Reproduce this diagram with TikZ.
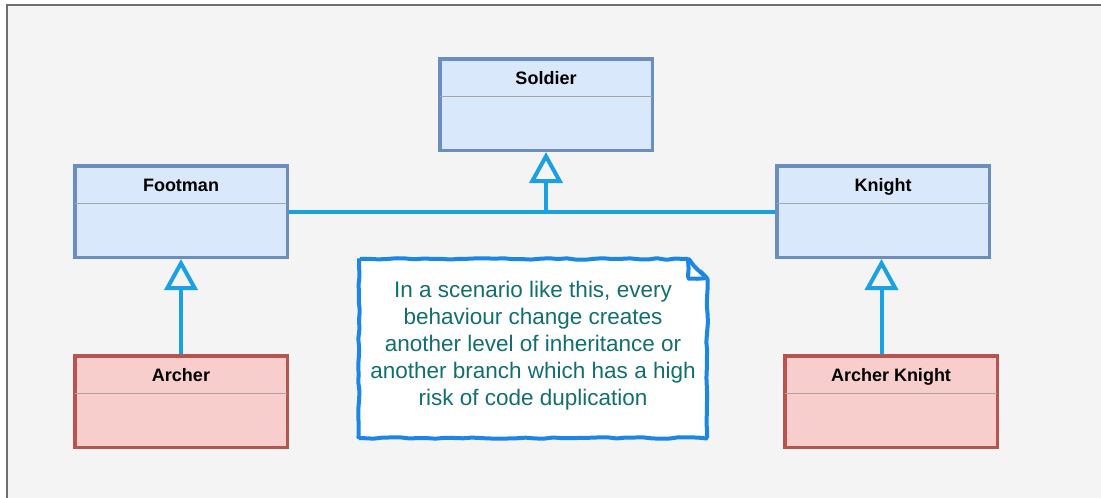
\documentclass[tikz,border=0pt]{standalone}
\usepackage{fontspec}
\setmainfont{Liberation Sans}
\usetikzlibrary{arrows.meta,decorations.pathmorphing}
\definecolor{bluefill}{HTML}{DAE8FC}
\definecolor{blueline}{HTML}{6C8EBF}
\definecolor{redfill}{HTML}{F8CECC}
\definecolor{redline}{HTML}{B85450}
\definecolor{linkblue}{HTML}{1BA1E2}
\definecolor{noteblue}{HTML}{1C86E6}
\definecolor{notetext}{HTML}{136F6F}
\definecolor{divgray}{HTML}{A6A6A6}
\definecolor{bggray}{HTML}{F4F4F4}
\definecolor{framegray}{HTML}{6E6E6E}
\begin{document}
\begin{tikzpicture}[x=1pt,y=-1pt,
  classbox/.style={draw, line width=3.5pt, minimum width=212.5pt, minimum height=91.5pt, inner sep=0pt},
  bluebox/.style={classbox, draw=blueline, fill=bluefill},
  redbox/.style={classbox, draw=redline, fill=redfill},
  title/.style={font=\fontsize{18}{22}\selectfont\bfseries, text height=13pt, text depth=0pt},
  divider/.style={draw=divgray, line width=1.5pt},
  link/.style={draw=linkblue, line width=4pt},
  inherit/.style={link, -{Triangle[open, length=31pt, width=33pt]}},
  notepen/.style={draw=noteblue, line width=4pt, rounded corners=1pt,
    decorate, decoration={random steps, segment length=9pt, amplitude=0.8pt}}]
\useasboundingbox (0,0) rectangle (1101,498);
\pgfmathsetseed{7}
% frame
\fill[bggray] (8,6) rectangle (1101,498);
\draw[framegray, line width=2pt] (7,498) -- (7,5) -- (1101,5);

% classes
\node[bluebox] (soldier) at (546,104.5) {};
\node[bluebox] (footman) at (181,211.5) {};
\node[bluebox] (knight) at (883,211.5) {};
\node[redbox] (archer) at (181,401.5) {};
\node[redbox] (aknight) at (891,401.5) {};

\node[title] (soldier-t) at ([yshift=-21pt]soldier.north) {Soldier};
\node[title] (footman-t) at ([yshift=-21pt]footman.north) {Footman};
\node[title] (knight-t) at ([yshift=-21pt]knight.north) {Knight};
\node[title] (archer-t) at ([yshift=-21pt]archer.north) {Archer};
\node[title] (aknight-t) at ([yshift=-21pt]aknight.north) {Archer Knight};

\foreach \b in {soldier,footman,knight,archer,aknight}
  \draw[divider] ([xshift=1.7pt,yshift=-39.5pt]\b.north west) -- ([xshift=-1.7pt,yshift=-39.5pt]\b.north east);

% inheritance
\coordinate (join) at (soldier.south |- footman.east);
\draw[link] (footman.east) -- (knight.west);
\draw[inherit] (join) -- (soldier.south);
\draw[inherit] (archer.north) -- (footman.south);
\draw[inherit] ([xshift=-1.5pt]knight.south |- aknight.north) -- ([xshift=-1.5pt]knight.south);

% note
\draw[notepen, fill=white] (359,259) -- (688,259) -- (707,278) -- (707,438) -- (359,438) -- cycle;
\draw[notepen] (688,259) -- (688,278) -- (707,278);
\node[text=notetext, font=\fontsize{22.5}{27}\selectfont, align=center] (note) at (533,346)
  {In a scenario like this, every\\behaviour change creates\\another level of inheritance or\\another branch which has a high\\risk of code duplication};
\end{tikzpicture}
\end{document}
